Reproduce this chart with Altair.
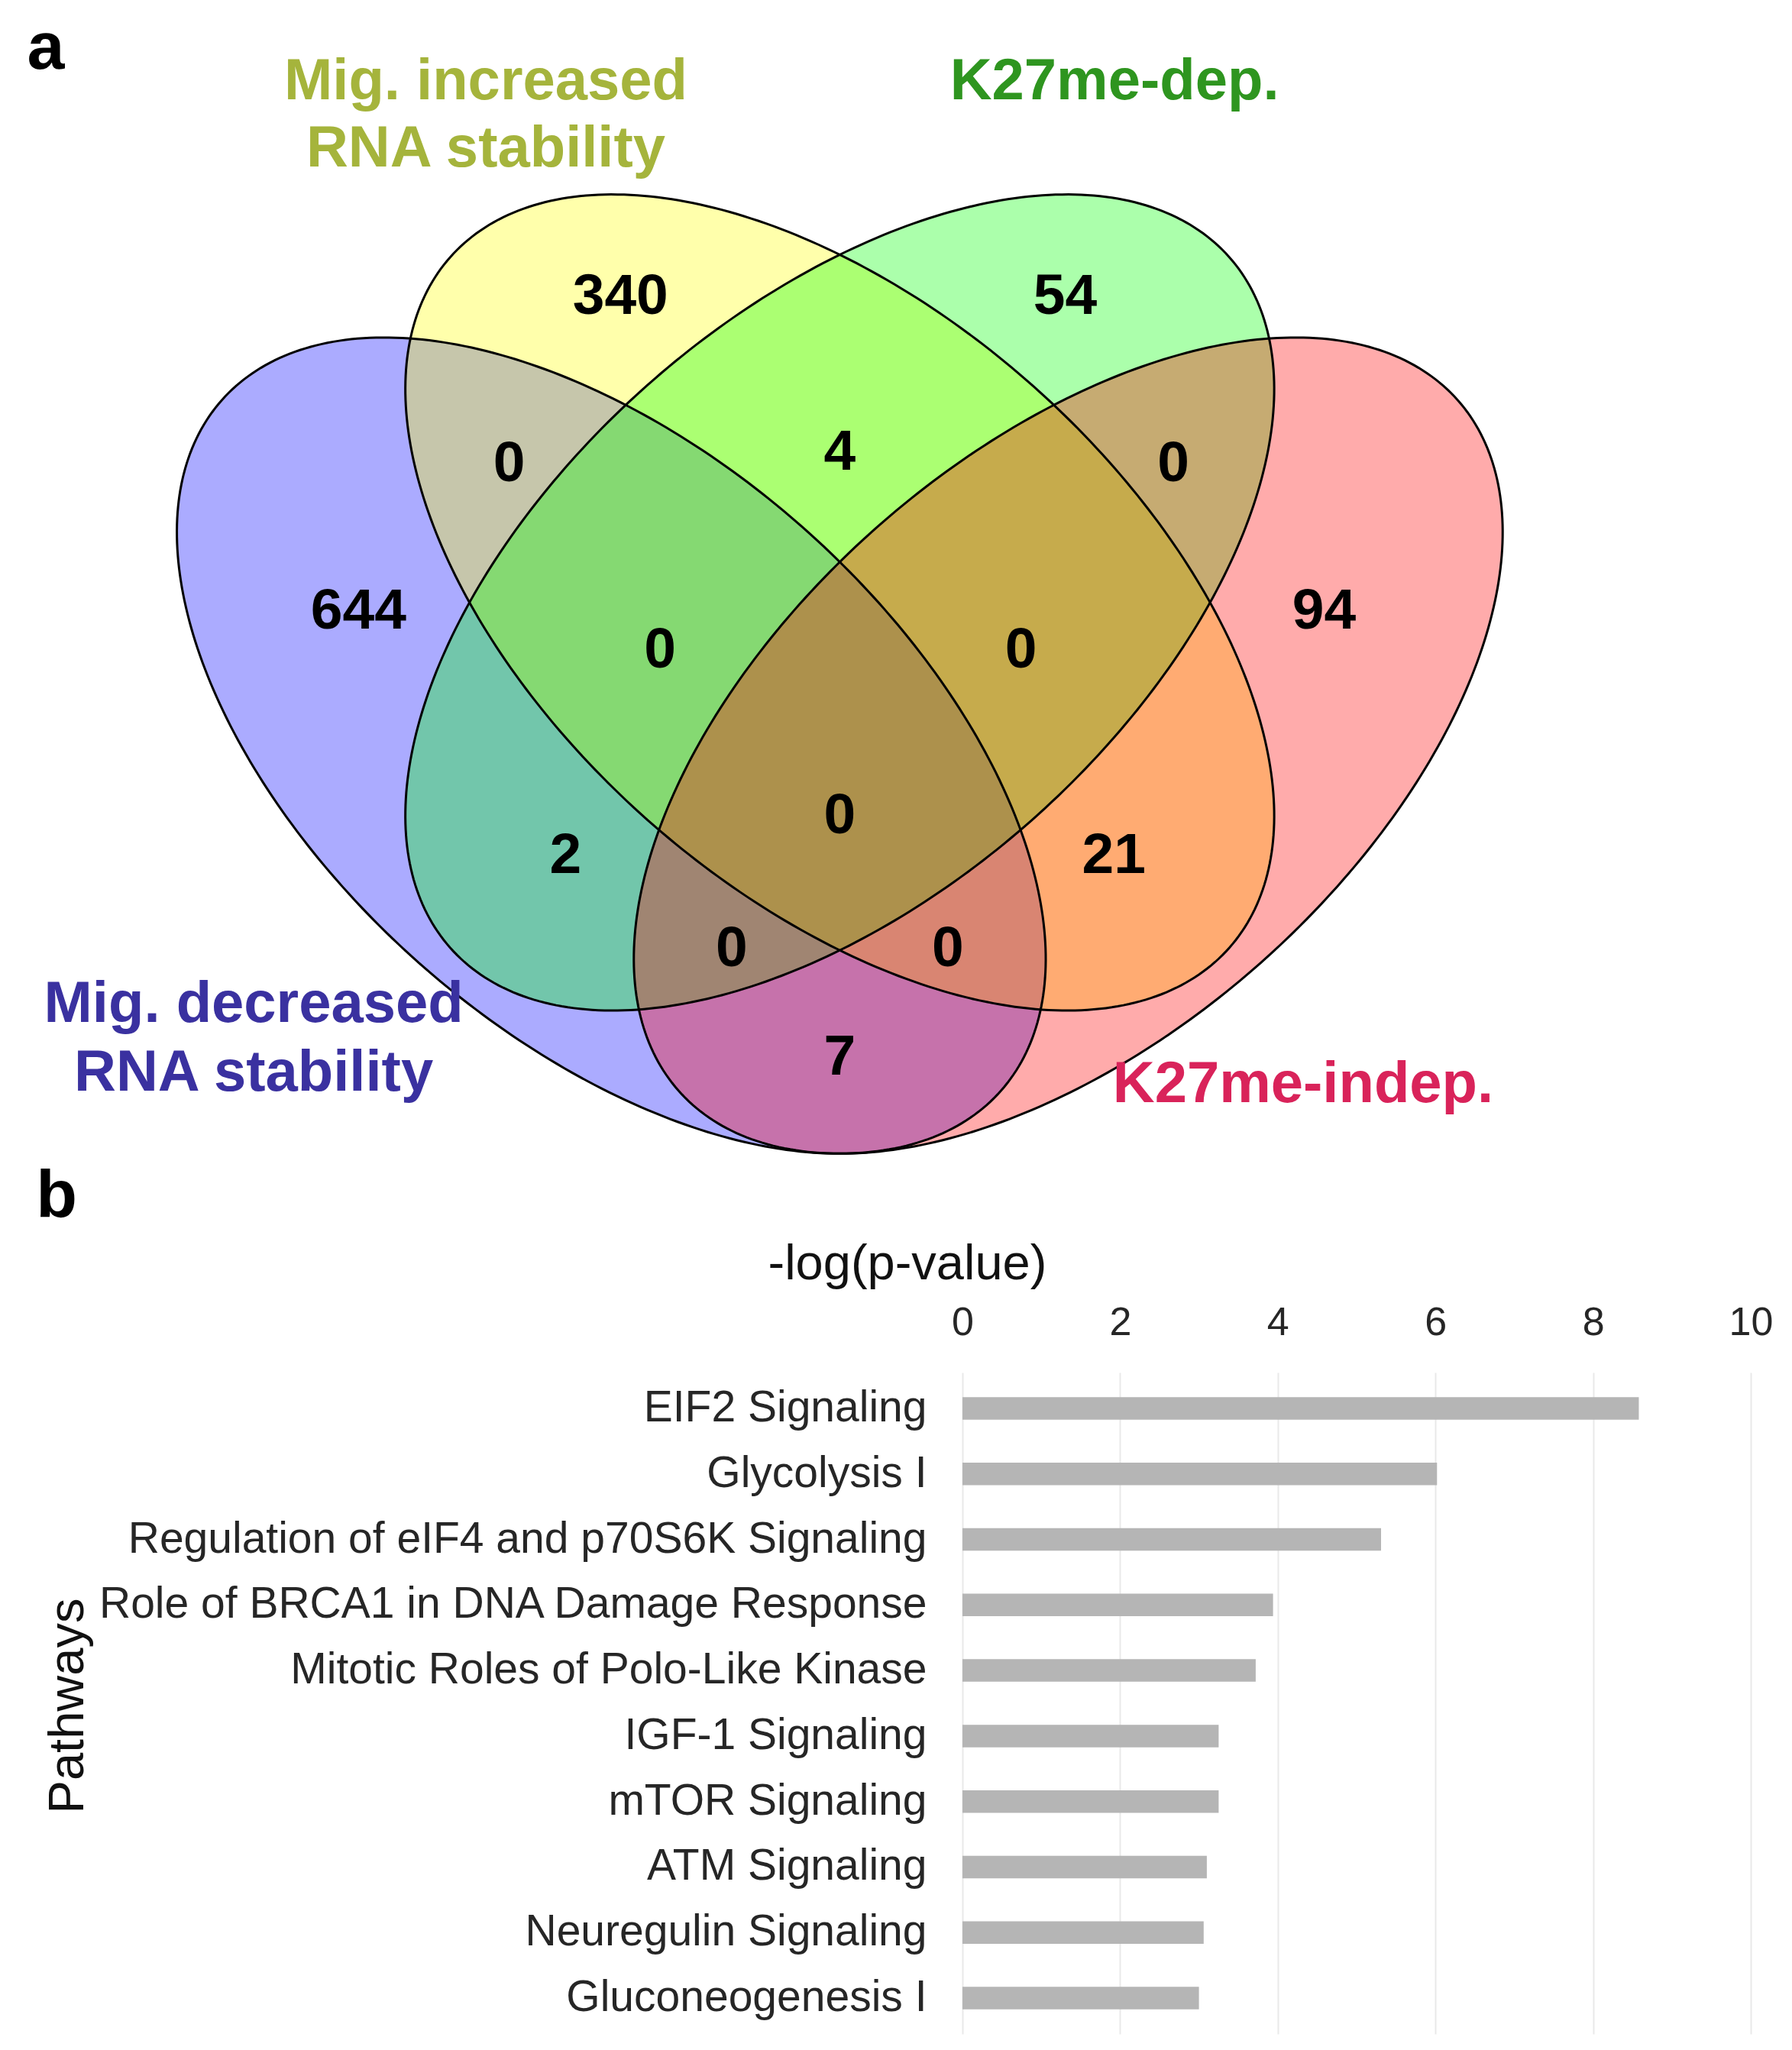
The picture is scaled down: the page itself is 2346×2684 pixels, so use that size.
import altair as alt
import numpy as np
import pandas as pd

# ---------------- Panel a : four-set Venn diagram ----------------
set_keys = ["dec", "inc", "dep", "indep"]
ell_cx = [0.35, 0.50, 0.50, 0.65]
ell_cy = [0.47, 0.57, 0.57, 0.47]
ell_a = [0.352, 0.352, 0.352, 0.352]
ell_b = [0.197, 0.197, 0.197, 0.197]
ell_rot = [-45, -45, 45, 45]
fill_colors = ["#0000FF", "#FFFF00", "#00FF00", "#FF0000"]
label_colors = ["#3A31A0", "#A5B43C", "#2E951F", "#D9235A"]

region_counts = ["340", "54", "0", "4", "0", "644", "0", "0", "94",
                 "0", "2", "21", "0", "0", "7"]
region_x = [0.356, 0.648, 0.283, 0.500, 0.719, 0.184, 0.382, 0.619, 0.818,
            0.500, 0.320, 0.680, 0.429, 0.571, 0.500]
region_y = [0.784, 0.784, 0.667, 0.675, 0.667, 0.564, 0.537, 0.537, 0.564,
            0.421, 0.393, 0.393, 0.328, 0.328, 0.252]

set_label_text = ["Mig. decreased", "RNA stability",
                  "Mig. increased", "RNA stability",
                  "K27me-dep.", "K27me-indep."]
set_label_set = ["dec", "dec", "inc", "inc", "dep", "indep"]
set_label_x = [0.1152, 0.1152, 0.2676, 0.2676, 0.6804, 0.8042]
set_label_y = [0.2768, 0.2287, 0.9217, 0.8747, 0.9217, 0.2209]

panel_tags = ["a", "b"]
panel_tag_x = [-0.0213, -0.0142]
panel_tag_y = [0.9431, 0.1406]

# ---------------- Panel b : pathway bar chart ----------------
pathways = [
    "EIF2 Signaling",
    "Glycolysis I",
    "Regulation of eIF4 and p70S6K Signaling",
    "Role of BRCA1 in DNA Damage Response",
    "Mitotic Roles of Polo-Like Kinase",
    "IGF-1 Signaling",
    "mTOR Signaling",
    "ATM Signaling",
    "Neuregulin Signaling",
    "Gluconeogenesis I",
]
neglogp = [8.58, 6.02, 5.31, 3.94, 3.72, 3.25, 3.25, 3.10, 3.06, 3.00]
x_ticks = [0, 2, 4, 6, 8, 10]

FONT = "Liberation Sans"
W, H = 2330, 2668

# ellipse outlines built from their parameters
rows = []
for k, cx, cy, a, b, r in zip(set_keys, ell_cx, ell_cy, ell_a, ell_b, ell_rot):
    rr = np.deg2rad(r)
    t = np.linspace(0, 2 * np.pi, 361)
    xs_ = cx + a * np.cos(t) * np.cos(rr) - b * np.sin(t) * np.sin(rr)
    ys_ = cy + a * np.cos(t) * np.sin(rr) + b * np.sin(t) * np.cos(rr)
    for i, (xx, yy) in enumerate(zip(xs_, ys_)):
        rows.append({"set": k, "i": i, "x": float(xx), "y": float(yy)})
ell_df = pd.DataFrame(rows)

vx = alt.Scale(domain=[-0.04734, 1.12117], nice=False, zero=False)
vy = alt.Scale(domain=[-0.43758, 0.98688], nice=False, zero=False)
X = alt.X("x:Q", scale=vx, axis=None)
Y = alt.Y("y:Q", scale=vy, axis=None)

base_ell = alt.Chart(ell_df)
fills = [
    base_ell.transform_filter(alt.datum.set == k)
    .mark_line(fill=c, fillOpacity=0.33, strokeOpacity=0)
    .encode(x=X, y=Y, order="i:Q")
    for k, c in zip(set_keys, fill_colors)
]
outline = base_ell.mark_line(stroke="black", strokeWidth=3).encode(
    x=X, y=Y, detail="set:N", order="i:Q"
)

num_df = pd.DataFrame({"x": region_x, "y": region_y, "n": region_counts})
nums = alt.Chart(num_df).mark_text(
    font=FONT, fontWeight="bold", fontSize=75, color="black",
    align="center", baseline="middle"
).encode(x=X, y=Y, text="n:N")

lab_df = pd.DataFrame({"x": set_label_x, "y": set_label_y,
                       "t": set_label_text, "set": set_label_set})
labs = alt.Chart(lab_df).mark_text(
    font=FONT, fontWeight="bold", fontSize=76, align="center", baseline="alphabetic"
).encode(
    x=X, y=Y, text="t:N",
    color=alt.Color("set:N", scale=alt.Scale(domain=set_keys, range=label_colors), legend=None),
)

tag_df = pd.DataFrame({"x": panel_tag_x, "y": panel_tag_y, "t": panel_tags})
tags = alt.Chart(tag_df).mark_text(
    font=FONT, fontWeight="bold", fontSize=88, color="black",
    align="center", baseline="alphabetic"
).encode(x=X, y=Y, text="t:N")

venn = alt.layer(*fills, outline, nums, labs, tags)

bar_df = pd.DataFrame({"pathway": pathways, "v": neglogp})
bx = alt.Scale(domain=[0, 10], range=[1252, 2284], nice=False, zero=True)
by = alt.Scale(domain=pathways, range=[1789, 2655], paddingInner=0.656, paddingOuter=0.376)

bars = alt.Chart(bar_df).mark_bar(color="#B5B5B5").encode(
    x=alt.X("v:Q", scale=bx, axis=alt.Axis(
        orient="top", values=x_ticks, offset=-1789, title="-log(p-value)",
        grid=True, gridColor="#E9E9E9", gridWidth=2, domain=False, ticks=False, tickSize=0,
        labelFont=FONT, labelFontSize=52, labelColor="#262626", labelPadding=50,
        labelBaseline="alphabetic", labelFlush=False, labelOverlap=False,
        titleFont=FONT, titleFontSize=65, titleFontWeight="normal", titleColor="#111111",
        titleX=997, titleY=-123, titleAlign="left", titleBaseline="alphabetic",
    )),
    y=alt.Y("pathway:N", sort=pathways, scale=by, axis=alt.Axis(
        orient="left", offset=-1252, title="Pathways", grid=False,
        domain=False, ticks=False, tickSize=0,
        labelFont=FONT, labelFontSize=57, labelColor="#262626", labelPadding=47, labelLimit=1500,
        titleFont=FONT, titleFontSize=65, titleFontWeight="normal", titleColor="#111111",
        titleX=-1152, titleY=2225, titleAngle=270, titleAlign="center", titleBaseline="alphabetic",
    )),
)

chart = alt.layer(venn, bars).resolve_scale(x="independent", y="independent").properties(
    width=W, height=H, padding=0,
    autosize=alt.AutoSizeParams(type="none"),
    background="white",
).configure_view(strokeWidth=0)

chart.save("out.html", embed_options={"renderer": "svg", "actions": False})
